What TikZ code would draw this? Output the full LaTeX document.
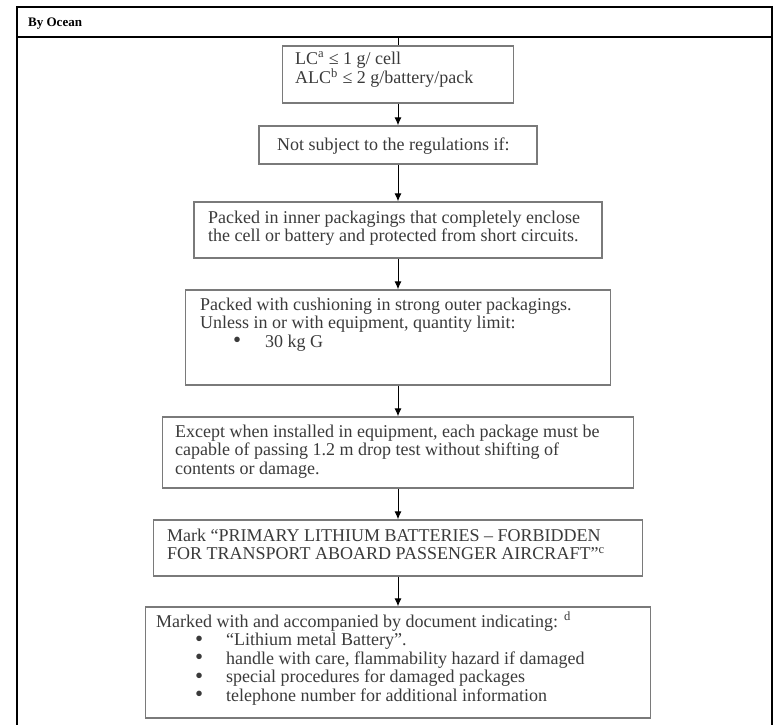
\documentclass[tikz,border=0pt]{standalone}
\usepackage{fontspec}
\setmainfont{Liberation Serif}
\usepackage{tikz}
\usetikzlibrary{arrows.meta}
\definecolor{boxgray}{HTML}{7A7A7A}
\definecolor{inkgray}{HTML}{3A3A3A}
\newcommand{\listdot}{\makebox[0pt][l]{\raisebox{-0.5pt}{\fontsize{23}{18}\selectfont\textbullet}}}

\begin{document}
\begin{tikzpicture}[
    x=1pt, y=-1pt,
    every node/.style={inner sep=0pt},
    flow/.style={
        draw,
        -{Latex[length=8pt,width=7pt]}, line width=1pt
    },
    frame/.style={draw, line width=1.6pt}
]
\tikzstyle{stepbox} = [draw=boxgray, line width=1.3pt, rectangle]
\tikzstyle{steptext} = [anchor=base west, align=left, text=inkgray, font=\fontsize{18}{18.5}\selectfont]
\useasboundingbox (0,0) rectangle (774,725);

% table frame with heading row
\draw[frame] (17,725) -- (17,7) -- (772,7) -- (772,725);
\draw[frame] (17,37) -- (772,37);
\node[anchor=base west, font=\bfseries\fontsize{13}{14}\selectfont] (heading) at (28,27) {By Ocean};

% the boxes of the chart
\node[stepbox, minimum width=231pt, minimum height=57pt] (limit) at (398,74.5) {};
\node[stepbox, minimum width=278pt, minimum height=38pt] (exempt) at (398,145) {};
\node[stepbox, minimum width=408pt, minimum height=56pt] (inner) at (398,230) {};
\node[stepbox, minimum width=425pt, minimum height=95pt] (outer) at (398,337.5) {};
\node[stepbox, minimum width=471pt, minimum height=71pt] (drop) at (398,452.5) {};
\node[stepbox, minimum width=489pt, minimum height=56pt] (mark) at (398,548) {};
\node[stepbox, minimum width=505pt, minimum height=111pt] (document) at (398,662.5) {};

% texts inside the boxes (placed by the baseline of their last line)
\node[steptext, font=\fontsize{18}{16}\selectfont] (limittext) at (295,84)
    {LC\textsuperscript{a} ≤ 1 g/ cell\\ALC\textsuperscript{b} ≤ 2 g/battery/pack};
\node[steptext] (exempttext) at (277,150) {Not subject to the regulations if:};
\node[steptext] (innertext) at (208,241.5)
    {Packed in inner packagings that completely enclose\\the cell or battery and protected from short circuits.};
\node[steptext] (outertext) at (200,347)
    {Packed with cushioning in strong outer packagings.\\Unless in or with equipment, quantity limit:\\
     \hspace*{33pt}\makebox[32pt][l]{\listdot}30 kg G};
\node[steptext] (droptext) at (175,474)
    {Except when installed in equipment, each package must be\\capable of passing 1.2 m drop test without shifting of\\contents or damage.};
\node[steptext] (marktext) at (167,559.5)
    {Mark “PRIMARY LITHIUM BATTERIES – FORBIDDEN\\FOR TRANSPORT ABOARD PASSENGER AIRCRAFT”\textsuperscript{c}};
\node[steptext] (documenttext) at (156,701)
    {Marked with and accompanied by document indicating: \textsuperscript{d}\\
     \hspace*{39pt}\makebox[31pt][l]{\listdot}“Lithium metal Battery”.\\
     \hspace*{39pt}\makebox[31pt][l]{\listdot}handle with care, flammability hazard if damaged\\
     \hspace*{39pt}\makebox[31pt][l]{\listdot}special procedures for damaged packages\\
     \hspace*{39pt}\makebox[31pt][l]{\listdot}telephone number for additional information};

% connectors
\coordinate (entry) at (398,37);
\draw[line width=1pt] (entry) -- (limit);
\draw[flow] (limit) -- (exempt);
\draw[flow] (exempt) -- (inner);
\draw[flow] (inner) -- (outer);
\draw[flow] (outer) -- (drop);
\draw[flow] (drop) -- (mark);
\draw[flow] (mark) -- (document);
\end{tikzpicture}
\end{document}
